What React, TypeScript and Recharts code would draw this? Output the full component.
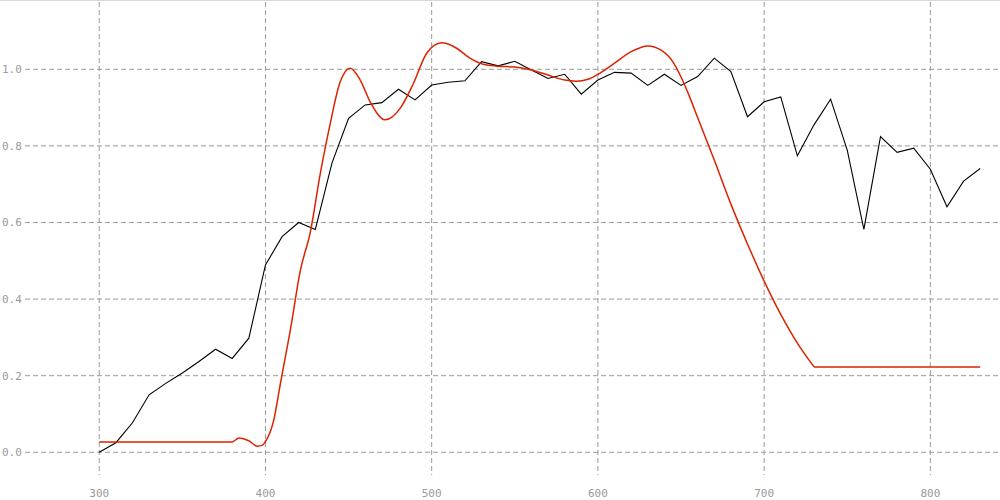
import { LineChart, Line, XAxis, YAxis, CartesianGrid } from 'recharts';

// measured series on a shared wavelength axis
const blackX = [
  300, 310, 320, 330, 340, 350, 360, 370, 380, 390, 400, 410, 420, 430, 440, 450, 460, 470,
  480, 490, 500, 510, 520, 530, 540, 550, 560, 570, 580, 590, 600, 610, 620, 630, 640, 650,
  660, 670, 680, 690, 700, 710, 720, 730, 740, 750, 760, 770, 780, 790, 800, 810, 820, 830,
];
const blackY = [
  0.0, 0.025, 0.077, 0.15, 0.18, 0.207, 0.237, 0.269, 0.245, 0.298, 0.489, 0.563, 0.6, 0.582,
  0.755, 0.872, 0.907, 0.913, 0.948, 0.92, 0.959, 0.966, 0.97, 1.02, 1.009, 1.021, 0.998,
  0.976, 0.987, 0.935, 0.972, 0.992, 0.99, 0.958, 0.987, 0.958, 0.981, 1.029, 0.994, 0.876,
  0.915, 0.928, 0.774, 0.855, 0.922, 0.789, 0.582, 0.824, 0.783, 0.794, 0.739, 0.641, 0.708,
  0.741,
];

const redX = [
  300, 380, 384, 390, 395, 398, 400, 405, 409, 415, 421, 427, 433, 439, 445, 451, 457, 463,
  472, 481, 489, 497, 506, 515, 523, 531, 540, 550, 560, 570, 580, 587, 594, 600, 610, 620,
  630, 638, 645, 650, 655, 660, 670, 680, 690, 700, 710, 720, 730, 830,
];
const redY = [
  0.027, 0.027, 0.037, 0.03, 0.016, 0.018, 0.028, 0.084, 0.18, 0.32, 0.475, 0.575, 0.728,
  0.859, 0.968, 1.003, 0.972, 0.915, 0.868, 0.898, 0.963, 1.042, 1.069, 1.055, 1.029, 1.013,
  1.008, 1.006, 0.998, 0.985, 0.972, 0.969, 0.974, 0.987, 1.016, 1.046, 1.061, 1.05, 1.02,
  0.98, 0.93, 0.874, 0.763, 0.648, 0.544, 0.447, 0.36, 0.285, 0.223, 0.223,
];

const xTicks = [300, 400, 500, 600, 700, 800];
const yTicks = [0, 0.2, 0.4, 0.6, 0.8, 1.0];

const blackData = blackX.map((x, i) => ({ x, y: blackY[i] }));
const redData = redX.map((x, i) => ({ x, y: redY[i] }));
// the curve is smooth up to the cut-off, then a straight flat tail
const redCurve = redData.slice(0, redData.length - 1);
const redTail = redData.slice(redData.length - 2);

const tickFont = { fontFamily: 'DejaVu Sans Mono', fontSize: 11, fill: '#999' };

function XTick({ x, y, payload }: any) {
  return (
    <text x={x} y={y + 14} textAnchor="middle" style={tickFont}>
      {payload.value}
    </text>
  );
}

function YTick({ y, payload }: any) {
  return (
    <g>
      <rect x={0} y={y - 7} width={22} height={14} fill="#fff" />
      <text x={2} y={y + 4} textAnchor="start" style={tickFont}>
        {Number(payload.value).toFixed(1)}
      </text>
    </g>
  );
}

export default function App() {
  return (
    <div style={{ position: 'absolute', left: 0, top: 0, width: 1000, height: 500, background: '#fff' }}>
      <div style={{ position: 'absolute', left: 0, top: 0, width: 1000, height: 1, background: '#d8d8d8' }} />
      <LineChart width={1000} height={500} margin={{ top: 2, right: 0, bottom: 0, left: 0 }}>
        <CartesianGrid
          stroke="#999"
          strokeDasharray="5 3"
          horizontalValues={yTicks}
          verticalValues={xTicks}
        />
        <XAxis
          type="number"
          dataKey="x"
          domain={[240.9, 841.9]}
          allowDataOverflow
          ticks={xTicks}
          height={25}
          axisLine={false}
          tickLine={false}
          tick={<XTick />}
        />
        <YAxis
          type="number"
          domain={[-0.0593, 1.1757]}
          allowDataOverflow
          ticks={yTicks}
          width={1}
          axisLine={false}
          tickLine={false}
          interval={0}
          tick={<YTick />}
        />
        <Line
          data={blackData}
          dataKey="y"
          type="linear"
          stroke="#000"
          strokeWidth={1.1}
          dot={false}
          isAnimationActive={false}
        />
        <Line
          data={redCurve}
          dataKey="y"
          type="monotone"
          stroke="#dd2200"
          strokeWidth={1.5}
          dot={false}
          isAnimationActive={false}
        />
        <Line
          data={redTail}
          dataKey="y"
          type="linear"
          stroke="#dd2200"
          strokeWidth={1.5}
          dot={false}
          isAnimationActive={false}
        />
      </LineChart>
    </div>
  );
}
